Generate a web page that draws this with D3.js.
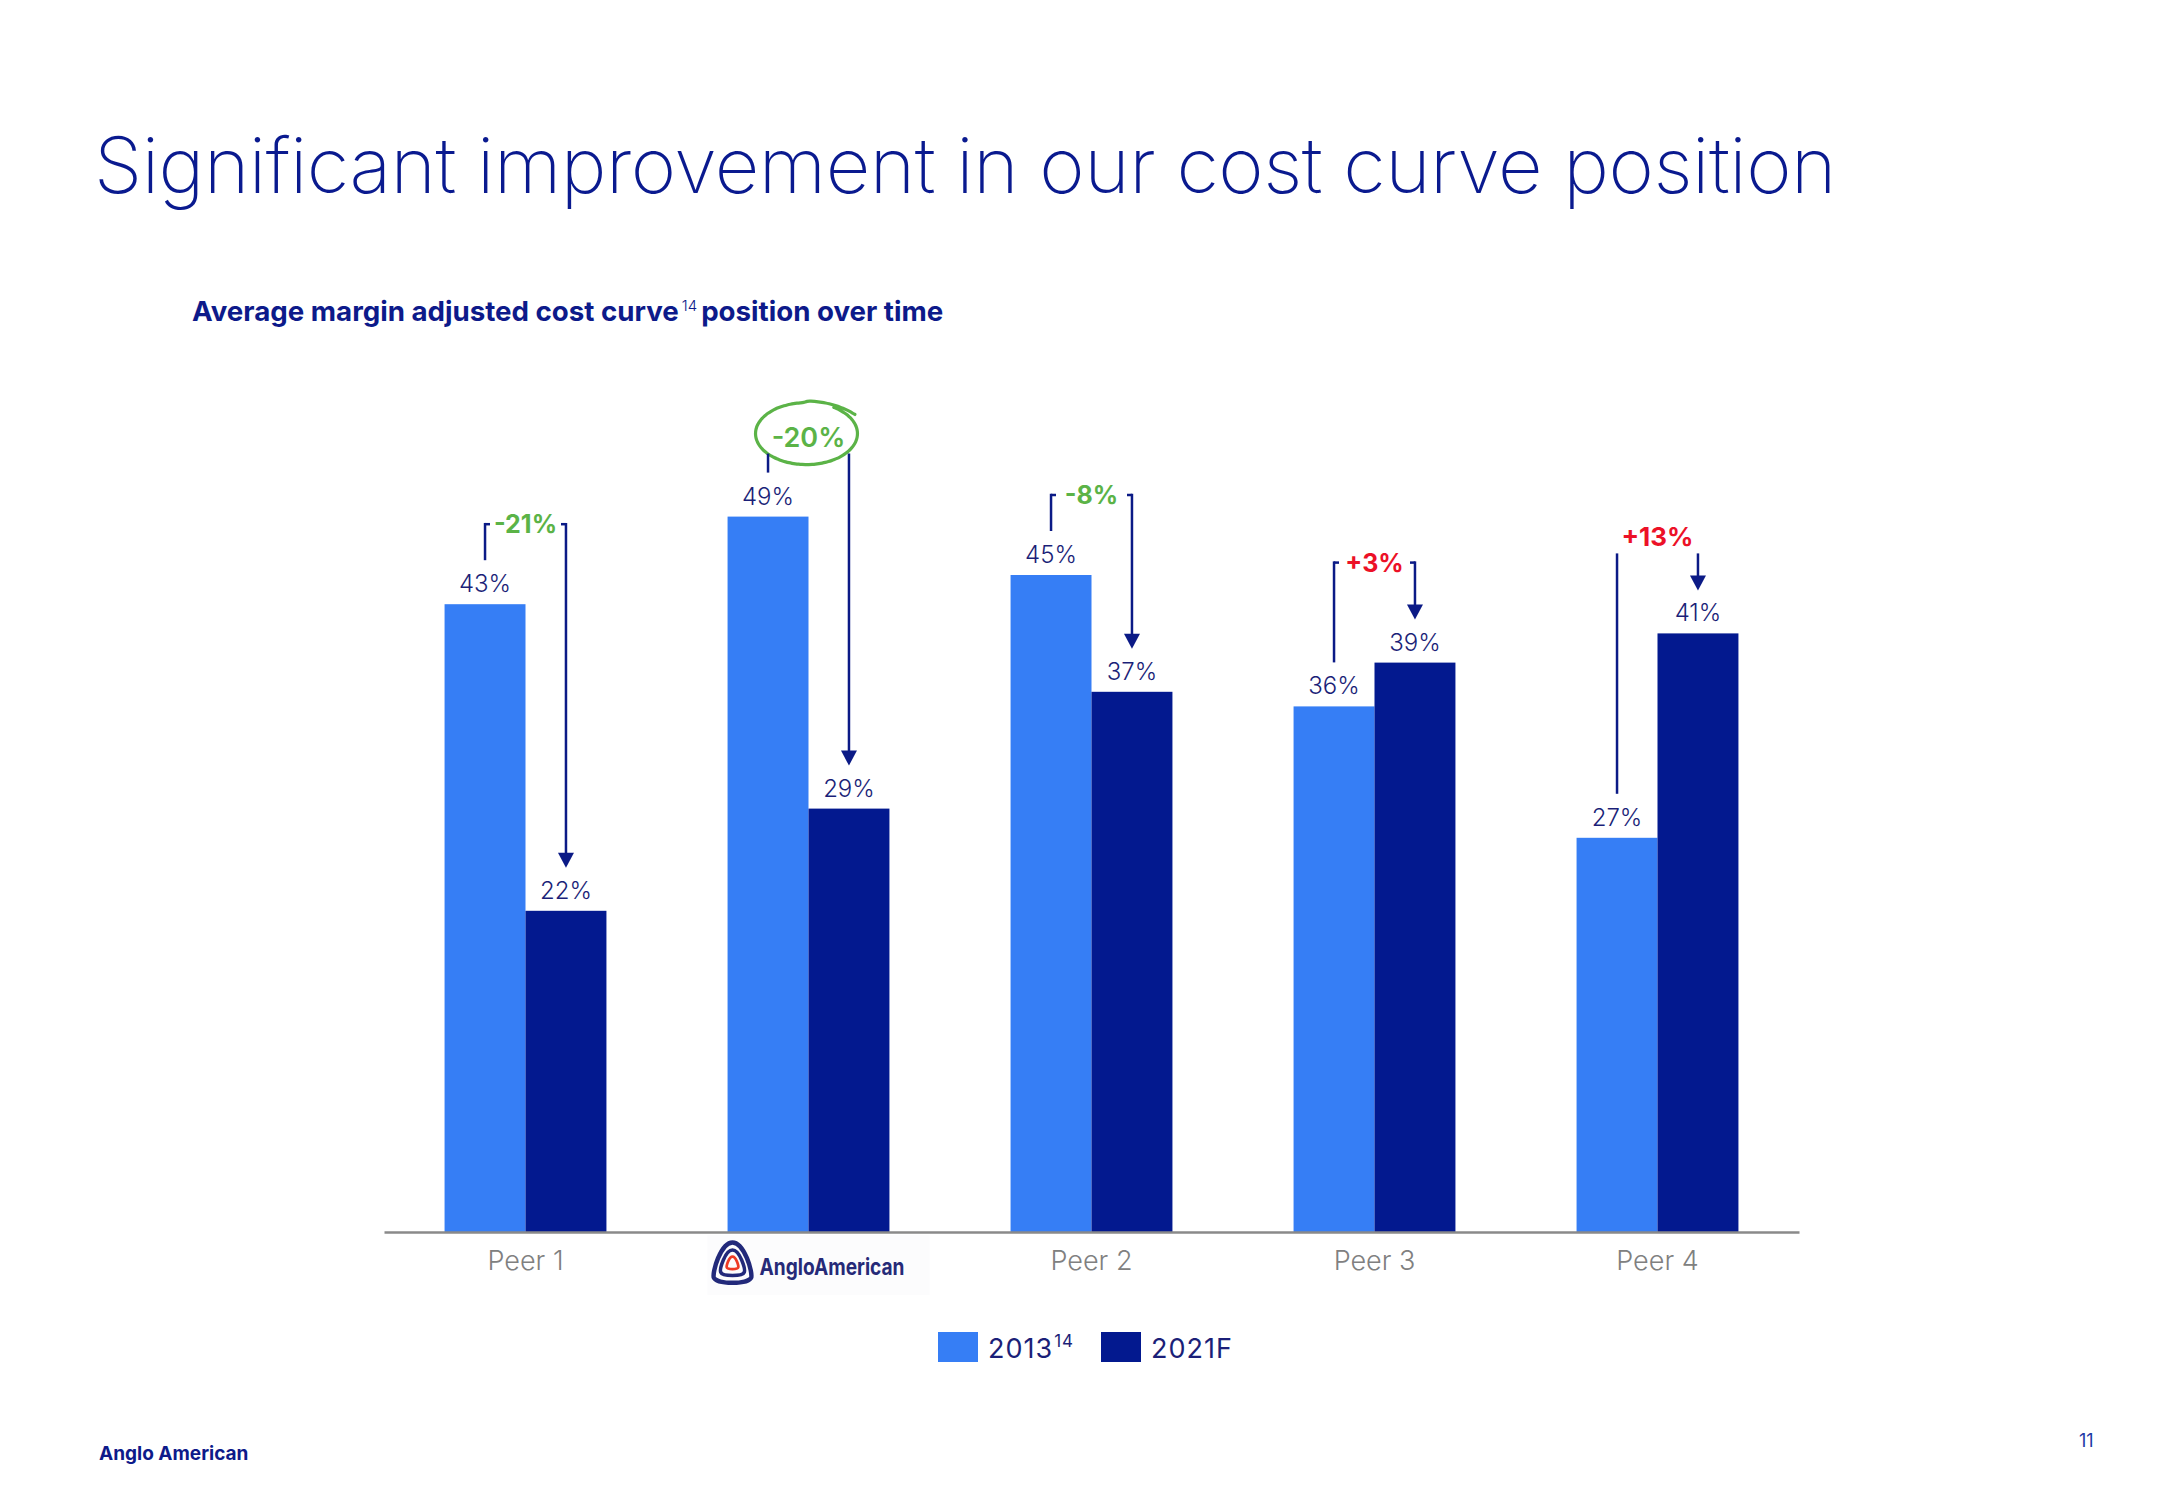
<!DOCTYPE html>
<html><head><meta charset="utf-8">
<script src="https://cdn.jsdelivr.net/npm/d3@7"></script>
<style>
html,body{margin:0;padding:0;background:#fff;}
svg{display:block;}
</style></head>
<body>
<svg id="chart" width="2166" height="1500"></svg>
<script>
// ---------- data ----------
const categories = ["Peer 1", "Anglo American", "Peer 2", "Peer 3", "Peer 4"];
const series = ["2013", "2021F"];
const values2013 = [43, 49, 45, 36, 27];
const values2021 = [22, 29, 37, 39, 41];
const changeLabels = ["-21%", "-20%", "-8%", "+3%", "+13%"];
const highlightCategory = "Anglo American";
// layout option: which change labels sit above their connector lines
const labelAboveFor = ["Peer 4"];

const C = {
  light: "#367ef5", dark: "#03198f", navy: "#0b1a86", text: "#1b1f78",
  green: "#5bb347", red: "#ec1127", axis: "#8a8a8a", peer: "#808080"
};
const FONT = "Inter, 'Noto Sans', Lato, sans-serif";

const svg = d3.select("#chart");

// ---------- titles ----------
function fitText(sel, w) {
  const len = sel.node().getComputedTextLength();
  const fs = parseFloat(sel.attr("font-size"));
  sel.attr("font-size", fs * w / len);
}
const title = svg.append("text").attr("x", 94).attr("y", 193)
  .attr("font-family", FONT).attr("font-weight", 250).attr("font-size", 80)
  .attr("fill", "#0a1a8f").attr("letter-spacing", -0.5)
  .text("Significant improvement in our cost curve position");
fitText(title, 1743);

const sub = svg.append("text").attr("x", 192).attr("y", 321)
  .attr("font-family", FONT).attr("font-weight", 700).attr("font-size", 24)
  .attr("fill", "#0d1a8a");
sub.append("tspan").text("Average margin adjusted cost curve");
sub.append("tspan").attr("font-size", 15).attr("font-weight", 300).attr("dy", -10).attr("dx", 3).text("14");
sub.append("tspan").attr("dy", 10).attr("dx", 4).text("position over time");
fitText(sub, 747);
sub.selectAll("tspan").filter((d, i) => i === 1).attr("font-size", 15);

// ---------- scales ----------
const baseY = 1232;
const x0 = d3.scaleBand().domain(categories).range([384, 1799]).paddingInner(0.428).paddingOuter(0.214);
const x1 = d3.scaleBand().domain(series).range([0, x0.bandwidth()]);
const y = d3.scaleLinear().domain([0, 50]).range([baseY, baseY - 50 * 14.6]);

const rows = categories.map((c, i) => ({
  cat: c, v: [values2013[i], values2021[i]], change: changeLabels[i]
}));

// ---------- bars ----------
const g = svg.append("g");
const groups = g.selectAll("g.grp").data(rows).join("g")
  .attr("transform", d => `translate(${x0(d.cat)},0)`);
groups.selectAll("rect").data(d => d.v.map((v, j) => ({ s: series[j], v })))
  .join("rect")
  .attr("x", d => x1(d.s)).attr("width", x1.bandwidth())
  .attr("y", d => y(d.v)).attr("height", d => baseY - y(d.v))
  .attr("fill", d => d.s === series[0] ? C.light : C.dark);

// value labels
groups.selectAll("text.val").data(d => d.v.map((v, j) => ({ s: series[j], v })))
  .join("text").attr("class", "val")
  .attr("x", d => x1(d.s) + x1.bandwidth() / 2).attr("y", d => y(d.v) - 12)
  .attr("text-anchor", "middle").attr("font-family", FONT).attr("font-weight", 350).attr("font-size", 24)
  .attr("fill", C.text).text(d => d.v + "%");

// ---------- axis ----------
const axis = svg.append("g").attr("transform", `translate(0,${baseY})`)
  .call(d3.axisBottom(x0).tickSize(0).tickPadding(0));
axis.select(".domain").attr("stroke", C.axis).attr("stroke-width", 2.5);
axis.selectAll(".tick text").attr("font-family", FONT).attr("font-weight", 300)
  .attr("font-size", 27).attr("fill", C.peer).attr("dy", null).attr("y", 38)
  .filter(d => d === highlightCategory).remove();

// logo
const lg = svg.append("g").attr("transform", `translate(${x0(highlightCategory) + x0.bandwidth() / 2 - 76},1263)`);
const pick = s => `M0,${-21 * s} C${12 * s},${-21 * s} ${21 * s},${10 * s} ${19 * s},${15 * s} C${16 * s},${22 * s} ${-16 * s},${22 * s} ${-19 * s},${15 * s} C${-21 * s},${10 * s} ${-12 * s},${-21 * s} 0,${-21 * s} Z`;
lg.append("rect").attr("x", -25).attr("y", -28).attr("width", 222).attr("height", 60).attr("fill", "#fcfcfd");
lg.append("path").attr("d", pick(0.98)).attr("fill", "none").attr("stroke", "#22297a").attr("stroke-width", 4.5);
lg.append("path").attr("d", pick(0.62)).attr("fill", "none").attr("stroke", "#22297a").attr("stroke-width", 3.5);
lg.append("path").attr("d", pick(0.3)).attr("fill", "none").attr("stroke", "#ee3a24").attr("stroke-width", 2.8);
lg.append("text").attr("x", 27).attr("y", 12).attr("font-family", FONT).attr("font-weight", 700)
  .attr("font-size", 23).attr("fill", "#262a78").attr("textLength", 145)
  .attr("lengthAdjust", "spacingAndGlyphs").text("AngloAmerican");

// ---------- change annotations ----------
const ann = svg.append("g");
rows.forEach(d => {
  const xl = x0(d.cat) + x1(series[0]) + x1.bandwidth() / 2;
  const xr = x0(d.cat) + x1(series[1]) + x1.bandwidth() / 2;
  const leftBottom = y(d.v[0]) - 44;
  const arrowTip = y(d.v[1]) - 43;
  const col = d.change.startsWith("-") ? C.green : C.red;
  const isHL = d.cat === highlightCategory;
  const t = ann.append("text").attr("text-anchor", "middle").attr("font-family", FONT)
    .attr("font-weight", isHL ? 600 : 700).attr("font-size", isHL ? 27 : (labelAboveFor.includes(d.cat) ? 26 : 25))
    .attr("fill", col).text(d.change);
  const above = !isHL && labelAboveFor.includes(d.cat);
  const rising = d.v[1] > d.v[0];
  const topY = y(Math.max(d.v[0], d.v[1])) - 80 - (rising && !above ? 20 : 0);
  let lineTop = topY;
  if (isHL) {
    t.attr("x", (xl + xr) / 2).attr("y", topY + 10);
    lineTop = topY + 17;
    // hand-drawn ellipse
    const cx = (xl + xr) / 2 - 2, cy = topY - 3, rx = 51, ry = 31;
    const pts = d3.range(0, 1.0001, 0.01).map(k => {
      const a = -Math.PI * 0.32 + k * Math.PI * 2.12;
      const r = 1 + 0.1 * Math.max(0, k - 0.85) / 0.15;
      return [cx + rx * r * Math.cos(a) + (k > 0.85 ? (k - 0.85) * 20 : 0), cy + ry * Math.sin(a) * (k > 0.85 ? 1.05 : 1)];
    });
    ann.append("path").attr("d", d3.line().curve(d3.curveBasis)(pts))
      .attr("fill", "none").attr("stroke", C.green).attr("stroke-width", 3.2).attr("stroke-linecap", "round");
  } else if (above) {
    t.attr("x", (xl + xr) / 2).attr("y", topY - 7);
  } else {
    t.attr("x", (xl + xr) / 2).attr("y", topY + 9);
    ann.append("path").attr("d", `M${xl + 5},${topY} H${xl}`).attr("stroke", C.navy).attr("stroke-width", 2.5).attr("fill", "none");
    ann.append("path").attr("d", `M${xr - 5},${topY} H${xr}`).attr("stroke", C.navy).attr("stroke-width", 2.5).attr("fill", "none");
  }
  ann.append("line").attr("x1", xl).attr("x2", xl).attr("y1", lineTop - (above || isHL ? 0 : 1.25)).attr("y2", leftBottom)
    .attr("stroke", C.navy).attr("stroke-width", 2.5);
  ann.append("line").attr("x1", xr).attr("x2", xr).attr("y1", lineTop - (above || isHL ? 0 : 1.25)).attr("y2", arrowTip - 14)
    .attr("stroke", C.navy).attr("stroke-width", 2.5);
  ann.append("path").attr("d", `M${xr - 8},${arrowTip - 15} L${xr + 8},${arrowTip - 15} L${xr},${arrowTip} Z`)
    .attr("fill", C.navy);
});

// ---------- legend ----------
const leg = svg.append("g");
const legX = [938, 1101];
series.forEach((s, i) => {
  leg.append("rect").attr("x", legX[i]).attr("y", 1332).attr("width", 40).attr("height", 30)
    .attr("fill", i === 0 ? C.light : C.dark);
  const t = leg.append("text").attr("x", legX[i] + 50).attr("y", 1358).attr("font-family", FONT)
    .attr("font-size", 27).attr("fill", C.text).attr("letter-spacing", 1).text(s);
  if (i === 0) t.append("tspan").attr("font-size", 17).attr("dy", -11).attr("dx", 1).text("14");
});

// ---------- footer ----------
svg.append("text").attr("x", 99).attr("y", 1460).attr("font-family", FONT).attr("font-weight", 700)
  .attr("font-size", 19).attr("fill", "#0d1a8a").text("Anglo American");
svg.append("text").attr("x", 2079).attr("y", 1447).attr("font-family", FONT)
  .attr("font-size", 18).attr("fill", "#1f3aa5").text("11");
</script>
</body></html>
